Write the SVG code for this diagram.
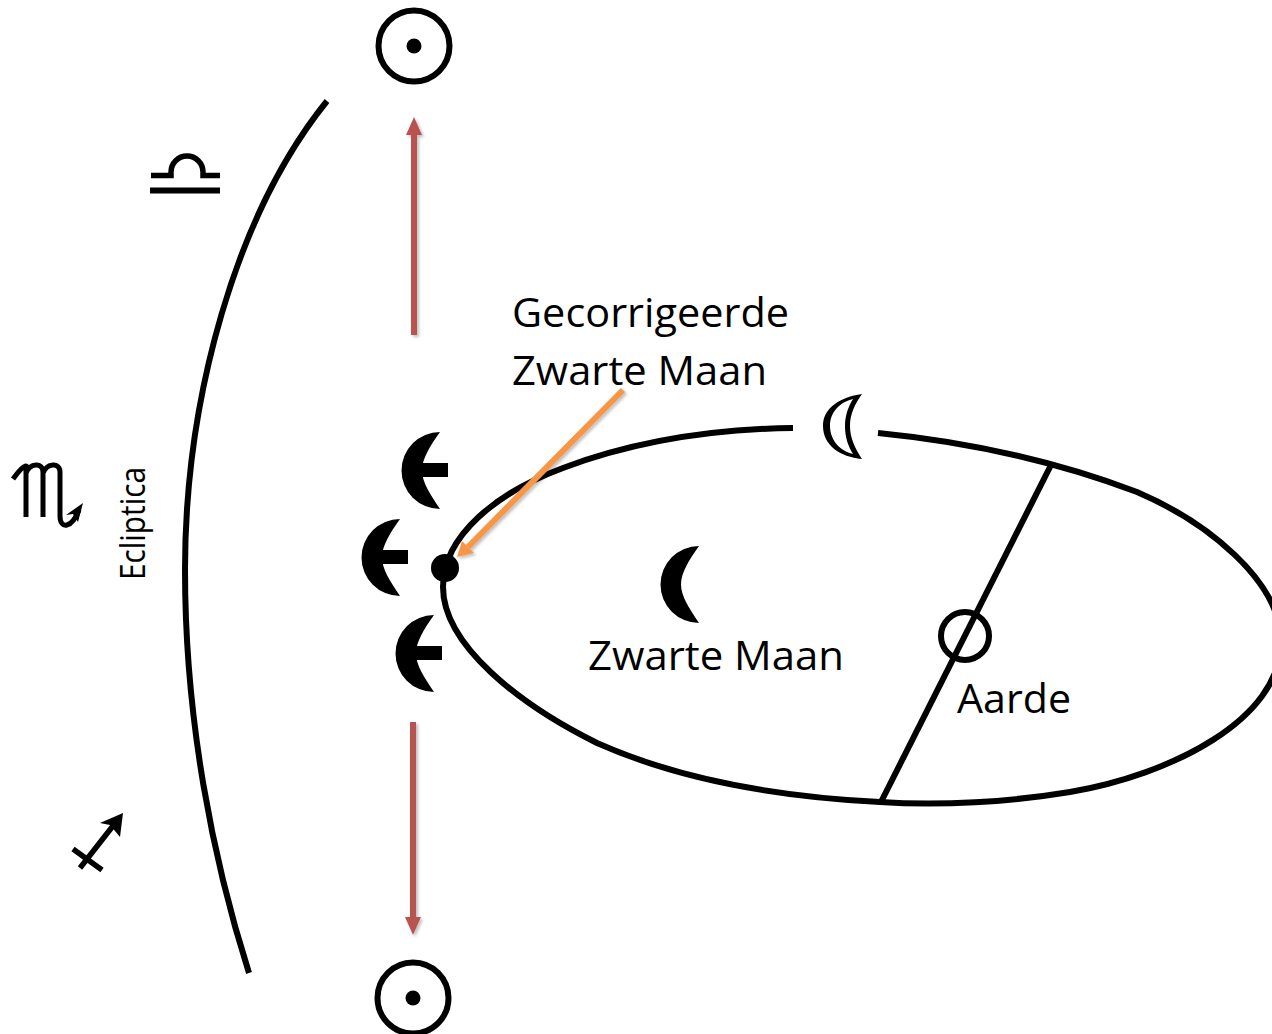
<svg xmlns="http://www.w3.org/2000/svg" width="1272" height="1034" viewBox="0 0 1272 1034">
<style>
.l{fill:none;stroke:#000;stroke-width:6}
.t{font-family:"Open Sans","Noto Sans","Liberation Sans",sans-serif;font-size:40px;fill:#000}
.r{fill:none;stroke:#b9524f;stroke-width:6}
.k{fill:#000}
</style>
<defs>
<filter id="sh" x="-20%" y="-20%" width="140%" height="140%"><feDropShadow dx="2" dy="2" stdDeviation="1.5" flood-color="#000" flood-opacity="0.25"/></filter>
<path id="moon" d="M38 0 A38.5 38.5 0 0 0 38 77 C28 62 20 50 20 38.5 C20 27 28 14 38 0Z"/>
<g id="bar"><use href="#moon"/><rect x="20" y="31" width="26" height="14"/></g>
</defs>
<rect width="1272" height="1034" fill="#fff"/>
<g id="ecliptic"><path class="l" d="M327 101 C235 215 185 400 185 570 C185 720 213 860 249 973"/></g>
<g id="orbit"><path class="l" d="M878 433 C970 442 1055 461 1137 492 C1205 521 1281 580 1281 642 C1281 720 1170 775 1070 792 C1010 802 940 806 880 802 C780 797 680 780 597 743 C520 705 443 645 443 587 C443 535 498 492 563 468 C635 441 715 429 793 428"/></g>
<g id="connectors">
<path d="M1051 465 L881 802" fill="none" stroke="#000" stroke-width="6"/>
<g filter="url(#sh)"><path class="r" d="M414 335 V130"/><path d="M414 117 L422 135 H406Z" fill="#b9524f"/></g>
<g filter="url(#sh)"><path class="r" d="M413 722 V922"/><path d="M413 935 L421 917 H405Z" fill="#b9524f"/></g>
<g filter="url(#sh)"><path d="M623 390 L468 547" fill="none" stroke="#f79646" stroke-width="6"/><path d="M457 557 L462 541 L474 553Z" fill="#f79646"/></g>
</g>
<g id="sun-top"><circle cx="414" cy="46" r="35.5" fill="none" stroke="#000" stroke-width="6"/><circle class="k" cx="414" cy="46" r="7.5"/></g>
<g id="sun-bottom"><circle cx="413" cy="998" r="35.5" fill="none" stroke="#000" stroke-width="6"/><circle class="k" cx="413" cy="998" r="7.5"/></g>
<g id="libra"><path d="M151 175.5 H171 V172 A16 16 0 0 1 203 172 V175.5 H220" fill="none" stroke="#000" stroke-width="5.5"/><rect x="150" y="187.5" width="70" height="6"/></g>
<g id="scorpio"><path d="M13 479 C18 472 24 465 26 466 V517 M26 473 C30 463 43 462 43 472 V517 M43 473 C47 463 60 462 60 472 V516 C60 530 72 528 79 510" fill="none" stroke="#000" stroke-width="5"/><path class="k" d="M83 503 L66 515 L73 514 L78 522Z"/></g>
<g id="sagittarius"><path d="M80 868 L116 822 M73 849 L102 870" fill="none" stroke="#000" stroke-width="5.5"/><path class="k" d="M123 813 L100 823 L110 825 L120 837Z"/></g>
<g id="moon-a"><use href="#bar" x="402" y="432"/></g>
<g id="moon-b"><use href="#bar" x="362" y="519"/></g>
<g id="moon-c"><use href="#bar" x="396" y="615"/></g>
<g id="corrected-point"><circle class="k" cx="445" cy="568" r="14"/></g>
<g id="black-moon"><use href="#moon" x="661" y="546"/></g>
<g id="white-moon"><path fill-rule="evenodd" d="M862 394 C840 397 823 408 823 426 C823 445 840 457 862 459 C855 448 850 438 850 426 C850 414 855 404 862 394Z M853 399 C840 402 830 412 830 426 C830 440 840 451 853 454 C848 446 845 437 845 426 C845 416 848 407 853 399Z"/></g>
<g id="earth"><circle cx="965" cy="636" r="24" fill="none" stroke="#000" stroke-width="6"/></g>
<g id="labels">
<text class="t" x="512" y="327" textLength="277" lengthAdjust="spacingAndGlyphs">Gecorrigeerde</text>
<text class="t" x="512" y="385" textLength="255" lengthAdjust="spacingAndGlyphs">Zwarte Maan</text>
<text class="t" x="588" y="670" textLength="256" lengthAdjust="spacingAndGlyphs">Zwarte Maan</text>
<text class="t" x="957" y="713" textLength="114" lengthAdjust="spacingAndGlyphs">Aarde</text>
<text class="t" style="font-size:34px" transform="translate(145 580) rotate(-90)" textLength="113" lengthAdjust="spacingAndGlyphs">Ecliptica</text>
</g>
</svg>
